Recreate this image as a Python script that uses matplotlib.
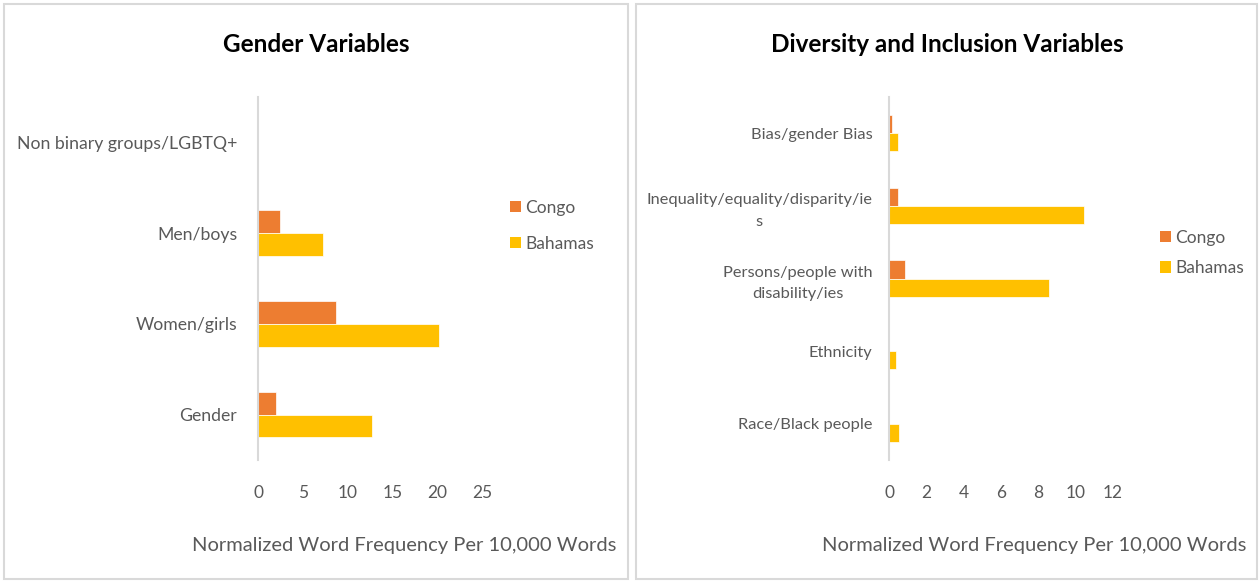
import matplotlib
matplotlib.use("Agg")
import matplotlib.pyplot as plt
from matplotlib.patches import Rectangle, Patch
import numpy as np

plt.rcParams['font.family'] = ['Lato', 'DejaVu Sans']

# ---- data ----
gender_cats = ["Gender", "Women/girls", "Men/boys", "Non binary groups/LGBTQ+"]
gender_congo = [2.0, 8.7, 2.5, 0.0]
gender_bahamas = [12.7, 20.2, 7.3, 0.0]
gender_ticks = [0, 5, 10, 15, 20, 25]

div_cats = ["Race/Black people", "Ethnicity", "Persons/people with\ndisability/ies",
            "Inequality/equality/disparity/ie\ns", "Bias/gender Bias"]
div_congo = [0.0, 0.0, 0.84, 0.48, 0.15]
div_bahamas = [0.54, 0.36, 8.59, 10.47, 0.48]
div_ticks = [0, 2, 4, 6, 8, 10, 12]

series_names = ["Congo", "Bahamas"]
C_CONGO = "#ED7D31"
C_BAH = "#FFC000"
TXT = "#595959"

W, H = 1260, 582
fig = plt.figure(figsize=(W / 100, H / 100), dpi=100)
fig.patch.set_facecolor("white")

def px(x0, y0, x1, y1):
    return [x0 / W, 1 - y1 / H, (x1 - x0) / W, (y1 - y0) / H]

# panel borders
for (x0, x1) in [(4, 628), (636, 1257)]:
    fig.patches.append(Rectangle((x0 / W, 3 / H), (x1 - x0) / W, (578 - 3) / H,
                                 transform=fig.transFigure, fill=False,
                                 edgecolor="#d9d9d9", linewidth=1.5))

def draw(rect, cats, congo, bah, ticks, ypad, lsize):
    ax = fig.add_axes(rect)
    y = np.arange(len(cats))
    h = 0.25
    ax.barh(y + h / 2, congo, height=h, color=C_CONGO, edgecolor="white", linewidth=0.5)
    ax.barh(y - h / 2, bah, height=h, color=C_BAH, edgecolor="white", linewidth=0.5)
    ax.set_ylim(-0.5, len(cats) - 0.5)
    ax.set_xlim(ticks[0], ticks[-1])
    ax.set_xticks(ticks)
    ax.set_yticks(y)
    ax.set_yticklabels(cats, multialignment="center", linespacing=1.65)
    ax.tick_params(axis="x", length=0, pad=18, labelsize=12.5, labelcolor=TXT)
    ax.tick_params(axis="y", length=0, pad=ypad, labelsize=lsize, labelcolor=TXT)
    for s in ["top", "right", "bottom"]:
        ax.spines[s].set_visible(False)
    ax.spines["left"].set_color("#d9d9d9")
    ax.spines["left"].set_linewidth(1.5)
    return ax

draw(px(258, 97, 482, 460), gender_cats, gender_congo, gender_bahamas, gender_ticks, 15, 12.7)
draw(px(889, 97, 1113, 460), div_cats, div_congo, div_bahamas, div_ticks, 12, 11.8)

fig.text(316 / W, 1 - 45 / H, "Gender Variables", ha="center", va="center",
         fontsize=17.5, fontweight="bold", color="black")
fig.text(947 / W, 1 - 45 / H, "Diversity and Inclusion Variables", ha="center", va="center",
         fontsize=17.5, fontweight="bold", color="black")

fig.text(404 / W, 1 - 545 / H, "Normalized Word Frequency Per 10,000 Words",
         ha="center", va="center", fontsize=14.5, color=TXT)
fig.text(1034 / W, 1 - 545 / H, "Normalized Word Frequency Per 10,000 Words",
         ha="center", va="center", fontsize=14.5, color=TXT)

handles = [Patch(facecolor=C_CONGO), Patch(facecolor=C_BAH)]
fig.legend(handles, series_names, loc="upper left", bbox_to_anchor=(494 / W, 1 - 184 / H),
           frameon=False, handlelength=0.65, handleheight=0.65, handletextpad=0.25,
           labelspacing=1.15, fontsize=12.5, labelcolor=TXT)
fig.legend(handles, series_names, loc="upper left", bbox_to_anchor=(1144 / W, 1 - 214 / H),
           frameon=False, handlelength=0.65, handleheight=0.65, handletextpad=0.25,
           labelspacing=0.85, fontsize=12.5, labelcolor=TXT)

fig.savefig("out.png", dpi=100)
